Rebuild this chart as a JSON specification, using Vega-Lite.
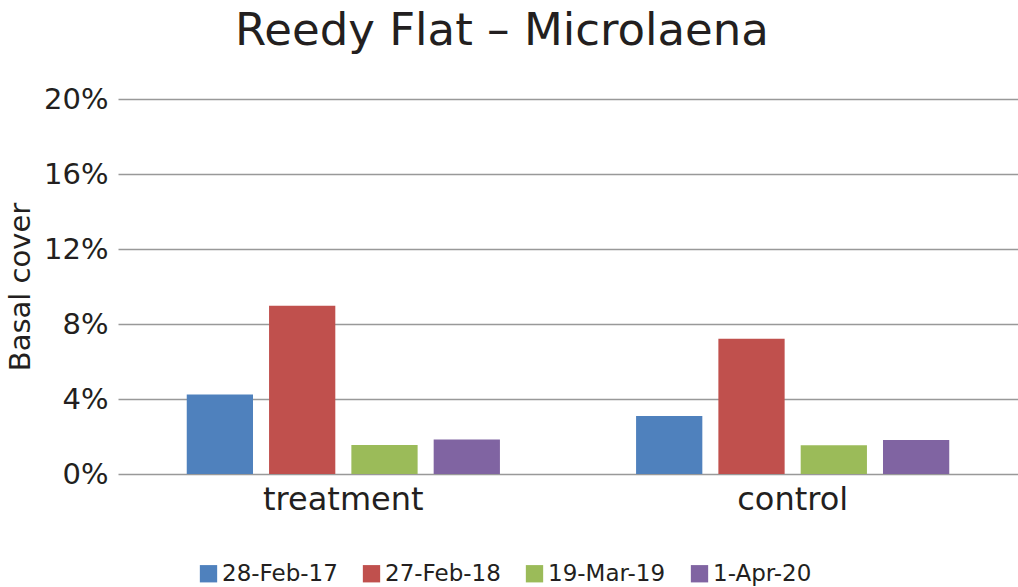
{
  "$schema": "https://vega.github.io/schema/vega-lite/v6.json",
  "width": 900,
  "height": 375,
  "autosize": {"type": "none"},
  "padding": {"left": 118, "top": 99, "right": 0, "bottom": 113},
  "background": "white",
  "title": {
    "text": "Reedy Flat – Microlaena",
    "fontSize": 45,
    "fontWeight": "normal",
    "color": "#231f20",
    "anchor": "middle",
    "dx": -66,
    "offset": 31
  },
  "data": {
    "values": [
      {"site": "treatment", "date": "28-Feb-17", "cover": 0.0424},
      {"site": "treatment", "date": "27-Feb-18", "cover": 0.0898},
      {"site": "treatment", "date": "19-Mar-19", "cover": 0.0155},
      {"site": "treatment", "date": "1-Apr-20", "cover": 0.0184},
      {"site": "control", "date": "28-Feb-17", "cover": 0.0309},
      {"site": "control", "date": "27-Feb-18", "cover": 0.0721},
      {"site": "control", "date": "19-Mar-19", "cover": 0.0153},
      {"site": "control", "date": "1-Apr-20", "cover": 0.0181}
    ]
  },
  "config": {
    "font": "DejaVu Sans",
    "view": {"stroke": null},
    "axis": {"labelColor": "#231f20", "titleColor": "#231f20"}
  },
  "mark": {"type": "bar"},
  "encoding": {
    "x": {
      "field": "site",
      "type": "nominal",
      "sort": ["treatment", "control"],
      "scale": {"paddingInner": 0.303, "paddingOuter": 0.153},
      "axis": {
        "title": null,
        "labelAngle": 0,
        "labelFontSize": 32,
        "labelPadding": 10,
        "domain": false,
        "ticks": false
      }
    },
    "xOffset": {
      "field": "date",
      "type": "nominal",
      "sort": ["28-Feb-17", "27-Feb-18", "19-Mar-19", "1-Apr-20"],
      "scale": {"paddingInner": 0.195, "paddingOuter": 0}
    },
    "y": {
      "field": "cover",
      "type": "quantitative",
      "scale": {"domain": [0, 0.2]},
      "axis": {
        "title": "Basal cover",
        "titleFontSize": 29,
        "titleFontWeight": "normal",
        "titlePadding": 8,
        "format": ".0%",
        "values": [0, 0.04, 0.08, 0.12, 0.16, 0.2],
        "labelFontSize": 29,
        "labelPadding": 10,
        "domain": false,
        "ticks": false,
        "gridColor": "#999999",
        "gridWidth": 1.5
      }
    },
    "color": {
      "field": "date",
      "type": "nominal",
      "sort": ["28-Feb-17", "27-Feb-18", "19-Mar-19", "1-Apr-20"],
      "scale": {
        "domain": ["28-Feb-17", "27-Feb-18", "19-Mar-19", "1-Apr-20"],
        "range": ["#4f81bd", "#c0504d", "#9bbb59", "#8064a2"]
      },
      "legend": {
        "title": null,
        "orient": "none",
        "legendX": 79,
        "legendY": 463,
        "direction": "horizontal",
        "symbolType": "square",
        "symbolSize": 300,
        "symbolStrokeWidth": 0,
        "labelFontSize": 23,
        "labelColor": "#231f20",
        "labelOffset": 2,
        "columnPadding": 22
      }
    }
  }
}
